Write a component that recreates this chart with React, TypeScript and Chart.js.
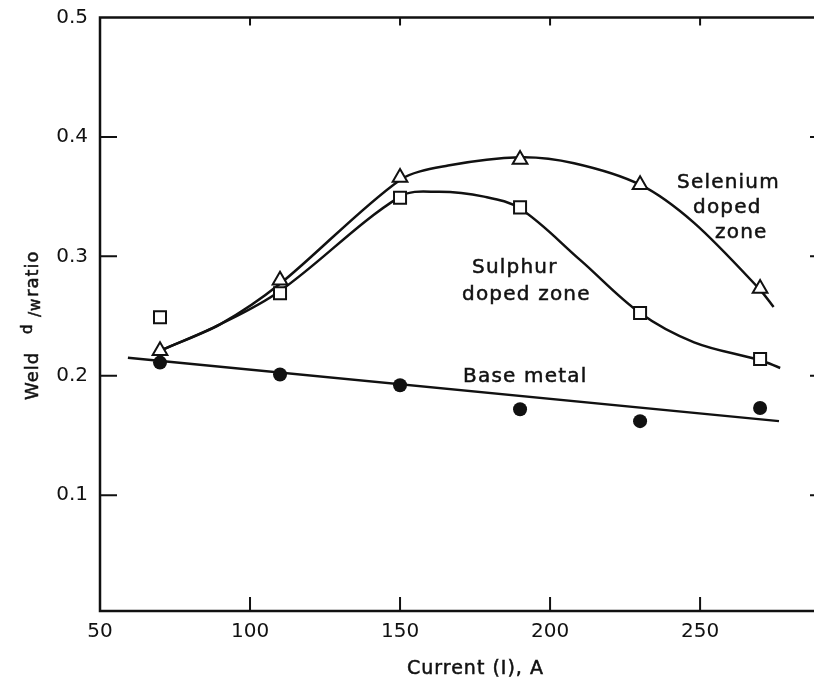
import React, { useEffect, useRef } from 'react';
import { Chart, registerables } from 'chart.js';

Chart.register(...registerables);

// Measured data points
const currentA = [70, 110, 150, 190, 230, 270];
const seleniumRatio = [0.221, 0.28, 0.366, 0.381, 0.36, 0.273];
const sulphurRatio = [0.249, 0.269, 0.349, 0.341, 0.2525, 0.214];
const baseMetalRatio = [0.211, 0.201, 0.192, 0.172, 0.162, 0.173];

// Hand-drawn fitted curves
const seleniumCurveX = [71, 90, 110, 150, 166, 190, 208, 230, 248, 270, 274.5];
const seleniumCurveY = [0.222, 0.243, 0.277, 0.364, 0.376, 0.383, 0.378, 0.36, 0.328, 0.272, 0.2575];
const sulphurCurveX = [71, 90, 110, 150, 163, 178, 190, 210, 230, 248, 270, 276.7];
const sulphurCurveY = [0.222, 0.243, 0.271, 0.35, 0.354, 0.35, 0.34, 0.297, 0.2525, 0.228, 0.213, 0.2065];
const baseLineX = [59.3, 276.3];
const baseLineY = [0.215, 0.162];

// Axis ticks
const xTicks = [50, 100, 150, 200, 250];
const yTicks = [0.1, 0.2, 0.3, 0.4, 0.5];

const FONT = '"DejaVu Sans", sans-serif';
const INK = '#111';

const toXY = (xs: number[], ys: number[]) => xs.map((x, i) => ({ x, y: ys[i] }));

const framePlugin = {
  id: 'frame',
  beforeDatasetsDraw(chart: any) {
    const { ctx, chartArea, scales } = chart;
    const { left, right, top, bottom } = chartArea;
    const x = scales.x;
    const y = scales.y;
    ctx.save();
    ctx.strokeStyle = INK;
    ctx.lineWidth = 2.5;
    ctx.strokeRect(left, top, right - left, bottom - top);
    ctx.lineWidth = 2;
    ctx.beginPath();
    xTicks.forEach((v) => {
      if (v === 50) return;
      const px = x.getPixelForValue(v);
      ctx.moveTo(px, bottom);
      ctx.lineTo(px, bottom - 14);
      ctx.moveTo(px, top);
      ctx.lineTo(px, top + 8);
    });
    yTicks.forEach((v) => {
      if (v === 0.5) return;
      const py = y.getPixelForValue(v);
      ctx.moveTo(left, py);
      ctx.lineTo(left + 17, py);
      ctx.moveTo(right, py);
      ctx.lineTo(right - 8, py);
    });
    ctx.stroke();
    ctx.restore();
  },
};

const drawText = (ctx: CanvasRenderingContext2D, t: string, x: number, y: number) => {
  ctx.fillText(t, x, y);
  ctx.strokeText(t, x, y);
};

const textPlugin = {
  id: 'texts',
  afterDraw(chart: any) {
    const { ctx } = chart;
    ctx.save();
    ctx.fillStyle = INK;
    ctx.strokeStyle = INK;
    ctx.lineWidth = 0.5;
    ctx.textBaseline = 'alphabetic';
    ctx.textAlign = 'left';
    (ctx as any).letterSpacing = '1.2px';
    ctx.font = `20px ${FONT}`;
    drawText(ctx, 'Selenium', 677, 188);
    drawText(ctx, 'doped', 693, 213);
    drawText(ctx, 'zone', 715, 238);
    drawText(ctx, 'Sulphur', 472, 273);
    drawText(ctx, 'doped zone', 462, 300);
    drawText(ctx, 'Base metal', 463, 382);

    // x axis title
    (ctx as any).letterSpacing = '1px';
    ctx.font = `19px ${FONT}`;
    drawText(ctx, 'Current (I), A', 407, 674);

    // y axis title (rotated)
    ctx.translate(38, 400);
    ctx.rotate(-Math.PI / 2);
    ctx.font = `18px ${FONT}`;
    drawText(ctx, 'Weld', 0, 0);
    ctx.font = `15px ${FONT}`;
    drawText(ctx, 'd', 66, -6);
    drawText(ctx, '/w', 83, 2);
    ctx.font = `18px ${FONT}`;
    drawText(ctx, 'ratio', 103, 0);
    ctx.restore();
  },
};

export default function App() {
  const ref = useRef<HTMLCanvasElement>(null);

  useEffect(() => {
    document.body.style.margin = '0';
    const chart = new Chart(ref.current as HTMLCanvasElement, {
      type: 'line',
      data: {
        datasets: [
          {
            data: toXY(currentA, seleniumRatio),
            showLine: false,
            pointStyle: 'triangle',
            pointRadius: 8.5,
            pointBackgroundColor: '#fff',
            pointBorderColor: INK,
            pointBorderWidth: 2,
            order: 1,
          },
          {
            data: toXY(currentA, sulphurRatio),
            showLine: false,
            pointStyle: 'rect',
            pointRadius: 8.5,
            pointBackgroundColor: '#fff',
            pointBorderColor: INK,
            pointBorderWidth: 2,
            order: 1,
          },
          {
            data: toXY(currentA, baseMetalRatio),
            showLine: false,
            pointStyle: 'circle',
            pointRadius: 7,
            pointBackgroundColor: INK,
            pointBorderColor: INK,
            pointBorderWidth: 0,
            order: 1,
          },
          {
            data: toXY(seleniumCurveX, seleniumCurveY),
            borderColor: INK,
            borderWidth: 2.5,
            pointRadius: 0,
            tension: 0.3,
            fill: false,
            order: 2,
          },
          {
            data: toXY(sulphurCurveX, sulphurCurveY),
            borderColor: INK,
            borderWidth: 2.5,
            pointRadius: 0,
            tension: 0.35,
            fill: false,
            order: 2,
          },
          {
            data: toXY(baseLineX, baseLineY),
            borderColor: INK,
            borderWidth: 2.5,
            pointRadius: 0,
            tension: 0,
            fill: false,
            order: 2,
          },
        ],
      },
      options: {
        responsive: false,
        animation: false,
        devicePixelRatio: 1,
        layout: { padding: { top: 17.5, right: 12, left: 0, bottom: 0 } },
        plugins: { legend: { display: false }, tooltip: { enabled: false } },
        scales: {
          x: {
            type: 'linear',
            min: 50,
            max: 289.3,
            afterBuildTicks: (s: any) => {
              s.ticks = xTicks.map((v) => ({ value: v }));
            },
            afterFit: (s: any) => {
              s.height = 68;
              s.paddingLeft = 0;
              s.paddingRight = 0;
            },
            ticks: {
              font: { family: FONT, size: 20 },
              color: INK,
              padding: 9,
              maxRotation: 0,
              autoSkip: false,
              callback: (v: any) => String(v),
            },
            grid: { display: false, drawTicks: false },
            border: { display: false },
          },
          y: {
            type: 'linear',
            min: 0.003,
            max: 0.5,
            afterBuildTicks: (s: any) => {
              s.ticks = yTicks.map((v) => ({ value: v }));
            },
            afterFit: (s: any) => {
              s.width = 100;
              s.paddingTop = 0;
              s.paddingBottom = 0;
            },
            ticks: {
              font: { family: FONT, size: 20 },
              color: INK,
              padding: 12,
              autoSkip: false,
              callback: (v: any) => Number(v).toFixed(1),
            },
            grid: { display: false, drawTicks: false },
            border: { display: false },
          },
        },
      },
      plugins: [framePlugin, textPlugin],
    } as any);
    return () => chart.destroy();
  }, []);

  return (
    <div
      style={{
        position: 'fixed',
        left: 0,
        top: 0,
        width: 814,
        height: 679,
        overflow: 'hidden',
        background: '#fff',
      }}
    >
      <canvas ref={ref} width={830} height={679} style={{ display: 'block', width: 830, height: 679 }} />
    </div>
  );
}
